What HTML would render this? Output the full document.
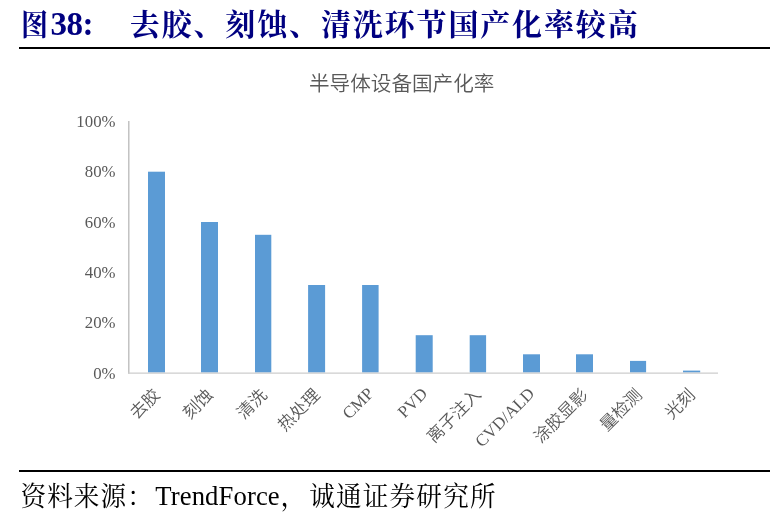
<!DOCTYPE html>
<html lang="zh-CN">
<head>
<meta charset="utf-8">
<title>图38: 去胶、刻蚀、清洗环节国产化率较高</title>
<style>
html,body{margin:0;padding:0;background:#fff;}
body{width:770px;height:518px;position:relative;overflow:hidden;font-family:"Liberation Serif","Noto Serif CJK SC",serif;}
.title{position:absolute;left:20px;top:4px;margin:0;height:40px;line-height:40px;font-weight:bold;color:#000080;white-space:nowrap;font-size:32px;}
.title .cjk{font-size:30px;letter-spacing:1.86px;padding-left:0.7px;}
.title .fig{display:inline-block;width:30px;font-size:30px;transform:scaleX(0.9);transform-origin:0 50%;margin-left:0.5px;}
.title .num{font-size:33px;letter-spacing:-0.5px;position:relative;top:0.4px;}
.title .gap{display:inline-block;width:36.1px;}
.rule{position:absolute;left:19px;width:751px;height:2px;background:#000;}
.rule.top{top:47px;}
.rule.bot{top:470px;}
.source{position:absolute;left:20px;top:476.6px;margin:0;height:38px;line-height:38px;font-size:26.67px;color:#000;white-space:nowrap;}
.source .cjk{display:inline-block;font-size:25.6px;letter-spacing:1.07px;padding-left:0.5px;position:relative;top:1.6px;transform:scaleY(1.06);transform-origin:50% 50%;}
.source .c2{letter-spacing:1.2px;}
.source .lat{padding-left:1.4px;letter-spacing:0.12px;margin-right:0.6px;position:relative;top:0.5px;}
.source .cm{margin-right:1.6px;padding-left:0;}
svg{position:absolute;left:0;top:50px;}
.ct{font-family:"Liberation Sans","Noto Sans CJK SC",sans-serif;font-size:20.6px;font-weight:350;fill:#595959;}
.yl{font-family:"Liberation Serif","Noto Serif CJK SC",serif;font-size:16.8px;fill:#595959;text-anchor:end;}
.xl{font-family:"Liberation Serif","Noto Sans CJK SC",sans-serif;font-size:17px;font-weight:350;fill:#595959;text-anchor:end;}
</style>
</head>
<body>
<h1 class="title"><span class="fig">图</span><span class="num">38:</span><span class="gap"></span><span class="cjk">去胶、刻蚀、清洗环节国产化率较高</span></h1>
<div class="rule top"></div>
<svg width="770" height="418" viewBox="0 50 770 418">
  <text class="ct" x="401.7" y="90.7" text-anchor="middle">半导体设备国产化率</text>
  <g class="yl">
    <text x="115.5" y="127">100%</text>
    <text x="115.5" y="177">80%</text>
    <text x="115.5" y="227.7">60%</text>
    <text x="115.5" y="278">40%</text>
    <text x="115.5" y="328">20%</text>
    <text x="115.5" y="378.6">0%</text>
  </g>
  <g fill="#5b9bd5">
    <rect x="148" y="171.7" width="17" height="200.8"/>
    <rect x="201" y="222" width="17" height="150.5"/>
    <rect x="255" y="234.8" width="16.3" height="137.7"/>
    <rect x="308.1" y="285" width="17" height="87.5"/>
    <rect x="362.1" y="285" width="16.5" height="87.5"/>
    <rect x="415.7" y="335.2" width="17" height="37.3"/>
    <rect x="469.7" y="335.2" width="16.4" height="37.3"/>
    <rect x="523" y="354.3" width="17" height="18.2"/>
    <rect x="576" y="354.3" width="17" height="18.2"/>
    <rect x="630" y="360.9" width="16.1" height="11.6"/>
    <rect x="683" y="370.6" width="17.2" height="1.9"/>
  </g>
  <line x1="128.8" y1="121" x2="128.8" y2="373.8" stroke="#b9b9b9" stroke-width="1.3"/>
  <line x1="128.2" y1="373.2" x2="718" y2="373.2" stroke="#cdcdcd" stroke-width="1.2"/>
  <g class="xl">
    <text transform="translate(161,396) rotate(-45)">去胶</text>
    <text transform="translate(214,396) rotate(-45)">刻蚀</text>
    <text transform="translate(268,396) rotate(-45)">清洗</text>
    <text transform="translate(321,396) rotate(-45)">热处理</text>
    <text transform="translate(374.6,394.6) rotate(-45)">CMP</text>
    <text transform="translate(428.5,394.6) rotate(-45)">PVD</text>
    <text transform="translate(482,395.6) rotate(-45)">离子注入</text>
    <text transform="translate(535.5,394.6) rotate(-45)">CVD/ALD</text>
    <text transform="translate(589,396) rotate(-45)">涂胶显影</text>
    <text transform="translate(643,396) rotate(-45)">量检测</text>
    <text transform="translate(696,396) rotate(-45)">光刻</text>
  </g>
</svg>
<div class="rule bot"></div>
<p class="source"><span class="cjk">资料来源：</span><span class="lat">TrendForce</span><span class="cjk cm">，</span><span class="cjk c2">诚通证券研究所</span></p>
</body>
</html>
